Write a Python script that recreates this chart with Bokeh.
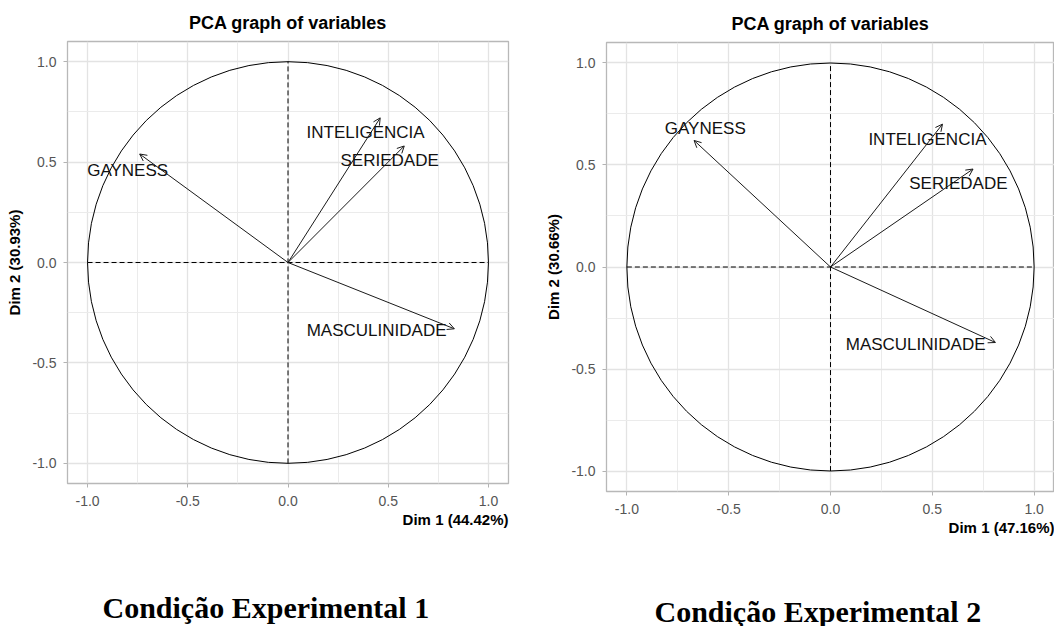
from bokeh.plotting import figure
from bokeh.layouts import row, column
from bokeh.models import ColumnDataSource, Arrow, OpenHead, FixedTicker, Title, Range1d
from bokeh.core.properties import value
from bokeh.embed import file_html
from bokeh.resources import INLINE

# ---------------- data ----------------
variables = ["GAYNESS", "INTELIGENCIA", "SERIEDADE", "MASCULINIDADE"]

c1_dim1 = [-0.74, 0.46, 0.58, 0.83]
c1_dim2 = [0.54, 0.72, 0.58, -0.33]
c1_label_x = [-0.80, 0.387, 0.507, 0.442]
c1_label_y = [0.46, 0.648, 0.506, -0.339]

c2_dim1 = [-0.67, 0.55, 0.70, 0.81]
c2_dim2 = [0.62, 0.70, 0.48, -0.37]
c2_label_x = [-0.615, 0.476, 0.628, 0.418]
c2_label_y = [0.678, 0.624, 0.407, -0.379]

dim1_pct = [44.42, 47.16]
dim2_pct = [30.93, 30.66]

tick_values = [-1.0, -0.5, 0.0, 0.5, 1.0]
tick_labels = ["-1.0", "-0.5", "0.0", "0.5", "1.0"]
minor_tick_values = [-0.75, -0.25, 0.25, 0.75]

# reference axes inside the unit circle
ref_x0 = [-1.0, 0.0]
ref_y0 = [0.0, -1.0]
ref_x1 = [1.0, 0.0]
ref_y1 = [0.0, 1.0]

captions = ["Condição Experimental 1", "Condição Experimental 2"]

SANS = "Liberation Sans"
SERIF = "Liberation Serif"


def make_panel(dim1, dim2, lab_x, lab_y, pct1, pct2, caption, cap_offset,
               cap_standoff, width, height, bl, br, bt, bb):
    p = figure(width=width, height=height, output_backend="svg",
               toolbar_location=None, x_range=Range1d(-1.1, 1.1),
               y_range=Range1d(-1.1, 1.1),
               min_border_left=bl, min_border_right=br,
               min_border_top=bt, min_border_bottom=bb)
    p.background_fill_color = "white"
    p.border_fill_color = "white"
    p.outline_line_color = "#B8B8B8"
    p.outline_line_width = 1.3

    p.title.text = "PCA graph of variables"
    p.title.align = "center"
    p.title.text_font = SANS
    p.title.text_font_style = "bold"
    p.title.text_font_size = "18px"
    p.title.text_color = "black"
    p.title.standoff = 18

    ticker = FixedTicker(ticks=tick_values, minor_ticks=minor_tick_values)
    overrides = {v: s for v, s in zip(tick_values, tick_labels)}
    for ax in (p.xaxis[0], p.yaxis[0]):
        ax.ticker = ticker
        ax.major_label_overrides = overrides
        ax.axis_line_color = None
        ax.major_tick_line_color = "#B3B3B3"
        ax.major_tick_out = 4
        ax.major_tick_in = 0
        ax.minor_tick_out = 0
        ax.minor_tick_in = 0
        ax.major_label_text_font = SANS
        ax.major_label_text_font_size = "14px"
        ax.major_label_text_color = "#555555"
        ax.axis_label_text_font = SANS
        ax.axis_label_text_font_style = "bold"
        ax.axis_label_text_font_size = "15px"
        ax.axis_label_text_color = "black"
    p.xaxis[0].major_label_standoff = 8
    p.yaxis[0].major_label_standoff = 7
    p.yaxis[0].axis_label = f"Dim 2 ({pct2:.2f}%)"
    p.yaxis[0].axis_label_standoff = 6

    # x-axis title, right aligned under the panel
    p.add_layout(Title(text=f"Dim 1 ({pct1:.2f}%)", align="right",
                       text_font=SANS, text_font_style="bold",
                       text_font_size="15px", text_color="black",
                       standoff=0), "below")
    # caption under the chart
    p.add_layout(Title(text=caption, align="left", offset=cap_offset,
                       text_font=SERIF, text_font_style="bold",
                       text_font_size="30px", text_color="black",
                       standoff=cap_standoff), "below")

    for g in (p.xgrid[0], p.ygrid[0]):
        g.ticker = ticker
        g.grid_line_color = "#E3E3E3"
        g.grid_line_width = 1.3
        g.minor_grid_line_color = "#EBEBEB"
        g.minor_grid_line_width = 1.0

    # unit circle
    p.ellipse(x=0, y=0, width=2, height=2, fill_color=None,
              line_color="black", line_width=1)

    # dashed reference axes
    p.segment(x0=ref_x0, y0=ref_y0, x1=ref_x1, y1=ref_y1,
              line_color="black", line_width=1, line_dash="5 3")

    # arrows
    src = ColumnDataSource(dict(x0=[0.0] * len(dim1), y0=[0.0] * len(dim1),
                                x1=dim1, y1=dim2))
    p.add_layout(Arrow(source=src, x_start="x0", y_start="y0",
                       x_end="x1", y_end="y1",
                       line_color="#1A1A1A", line_width=1,
                       end=OpenHead(size=7, line_color="#1A1A1A",
                                    line_width=1)))

    # variable labels
    lsrc = ColumnDataSource(dict(x=lab_x, y=lab_y, t=variables))
    p.text(x="x", y="y", text="t", source=lsrc, text_align="center",
           text_baseline="middle", text_font=value(SANS),
           text_font_size="17px", text_color="#111111")
    return p


p1 = make_panel(c1_dim1, c1_dim2, c1_label_x, c1_label_y, dim1_pct[0],
                dim2_pct[0], captions[0], 35, 122,
                527, 700, 67, 19, 41, 217)
p2 = make_panel(c2_dim1, c2_dim2, c2_label_x, c2_label_y, dim1_pct[1],
                dim2_pct[1], captions[1], 48, 114,
                527, 700, 79, 0, 42, 209)

layout = row(column(p1), column(p2))
open("out.html", "w").write(file_html(layout, INLINE))
